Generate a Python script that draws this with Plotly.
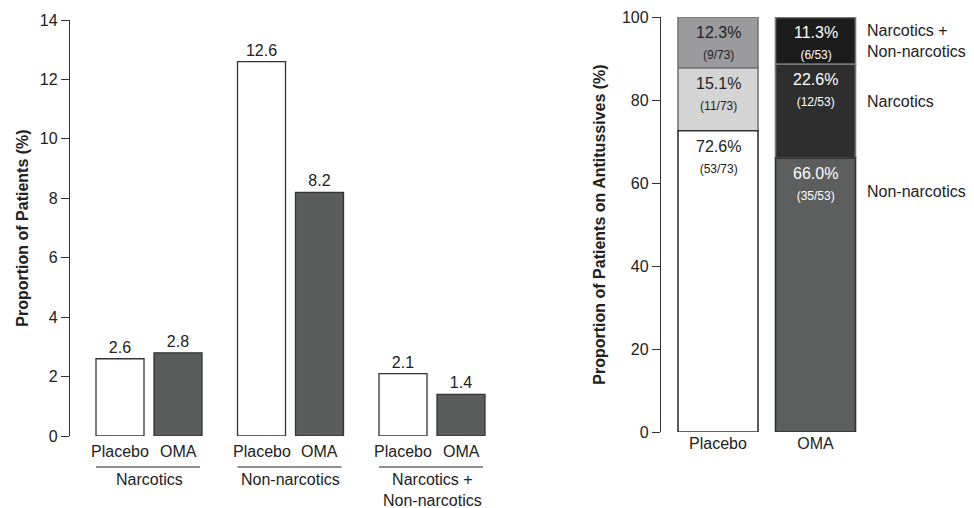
import numpy as np
import plotly.graph_objects as go

# ---------------- data ----------------
categories = ["Narcotics", "Non-narcotics", "Narcotics + Non-narcotics"]
category_labels = ["Narcotics", "Non-narcotics", "Narcotics +<br>Non-narcotics"]
placebo_vals = [2.6, 12.6, 2.1]
oma_vals = [2.8, 8.2, 1.4]

groups = ["Placebo", "OMA"]
nonnarc_pct = [72.6, 66.0]
nonnarc_n = ["53/73", "35/53"]
narc_pct = [15.1, 22.6]
narc_n = ["11/73", "12/53"]
combo_pct = [12.3, 11.3]
combo_n = ["9/73", "6/53"]
seg_names = ["Non-narcotics", "Narcotics", "Narcotics +<br>Non-narcotics"]

# ---------------- layout helpers (pixels) ----------------
W, H = 974, 508
FONT = "Liberation Sans, Arial, Helvetica, sans-serif"
TXT = "#222222"


def px(x):
    return x / W


def py(y):
    return 1 - y / H


# left panel
L_X0, L_X1 = 70, 500
L_CAT = 141.5
L_C0 = 149
L_TOP, L_BOT = 20, 436
bw = 48 / L_CAT
# right panel
R_X0, R_X1 = 661, 900
R_CAT = 97.5
R_C0 = 718
R_TOP, R_BOT = 17, 432
rbw = 80 / R_CAT

fig = go.Figure()

fig.add_trace(go.Bar(
    x=categories, y=placebo_vals, name="Placebo",
    width=bw, offset=-53 / L_CAT,
    marker=dict(color="#ffffff", line=dict(color="#333333", width=1.3)),
    text=[f"{v:.1f}" for v in placebo_vals], textposition="outside",
    textfont=dict(size=16, color=TXT, family=FONT), cliponaxis=False,
    xaxis="x", yaxis="y", showlegend=False,
))
fig.add_trace(go.Bar(
    x=categories, y=oma_vals, name="OMA",
    width=bw, offset=5 / L_CAT,
    marker=dict(color="#5b5d5c", line=dict(color="#333333", width=1.3)),
    text=[f"{v:.1f}" for v in oma_vals], textposition="outside",
    textfont=dict(size=16, color=TXT, family=FONT), cliponaxis=False,
    xaxis="x", yaxis="y", showlegend=False,
))

# right stacked panel (bases from cumulative sums of the data)
pcts = [nonnarc_pct, narc_pct, combo_pct]
ns = [nonnarc_n, narc_n, combo_n]
cols = [["#ffffff", "#5d5f5e"], ["#d4d4d4", "#2e2e2e"], ["#9b9b9d", "#1c1c1c"]]
tcols = [[TXT, "#ffffff"], [TXT, "#ffffff"], [TXT, "#ffffff"]]
lcols = ["#333333", "#777777", "#777777"]
bases = np.vstack([np.zeros(2), np.cumsum(np.array(pcts), axis=0)[:-1]])

annotations = []
for i in [2, 1, 0]:
    fig.add_trace(go.Bar(
        x=groups, y=pcts[i], base=bases[i],
        width=rbw, offset=-rbw / 2,
        marker=dict(color=cols[i], line=dict(color=lcols[i], width=1.6)),
        xaxis="x2", yaxis="y2", showlegend=False, name=seg_names[i],
    ))
    for j, g in enumerate(groups):
        annotations.append(dict(
            x=g, xref="x2", y=bases[i][j] + pcts[i][j], yref="y2",
            yanchor="top", xanchor="center", yshift=-5, showarrow=False,
            text=f"{pcts[i][j]:.1f}%<br><span style='font-size:12px'>({ns[i][j]})</span>",
            font=dict(size=16, color=tcols[i][j], family=FONT), align="center",
        ))

# Placebo / OMA labels under left bars
for c in categories:
    for lab, sh in (("Placebo", -29), ("OMA", 29)):
        annotations.append(dict(
            x=c, xref="x", y=py(451), yref="paper", xshift=sh,
            text=lab, showarrow=False, yanchor="middle", xanchor="center",
            font=dict(size=16, color=TXT, family=FONT),
        ))
# group labels
shapes = []
for i, lab in enumerate(category_labels):
    annotations.append(dict(
        x=categories[i], xref="x", y=py(469), yref="paper",
        text=lab, showarrow=False, yanchor="top", xanchor="center", align="center",
        font=dict(size=16, color=TXT, family=FONT),
    ))
    shapes.append(dict(
        type="line", xref="x", yref="paper",
        x0=i - 53 / L_CAT, x1=i + 51 / L_CAT, y0=py(467), y1=py(467),
        line=dict(color=TXT, width=1.2),
    ))
# right-side segment labels
for lab, yy in (("Narcotics +<br>Non-narcotics", 41), ("Narcotics", 102), ("Non-narcotics", 191)):
    annotations.append(dict(
        x=px(865), xref="paper", y=py(yy), yref="paper",
        text=lab, showarrow=False, xanchor="left", yanchor="middle", align="left",
        font=dict(size=16, color=TXT, family=FONT),
    ))

axis_common = dict(
    showline=True, linecolor="#333333", linewidth=1.3,
    ticks="outside", ticklen=8, tickwidth=1.3, tickcolor="#333333",
    showgrid=False, zeroline=False,
    tickfont=dict(size=16, color=TXT, family=FONT),
)

fig.update_layout(
    width=W, height=H,
    margin=dict(l=0, r=0, t=0, b=0),
    paper_bgcolor="white", plot_bgcolor="white",
    barmode="overlay",
    font=dict(family=FONT, color=TXT),
    xaxis=dict(domain=[px(L_X0), px(L_X1)],
               range=[-(L_C0 - L_X0) / L_CAT, (L_X1 - L_C0) / L_CAT],
               showticklabels=False, ticks="", showline=False, showgrid=False,
               zeroline=False, type="category"),
    yaxis=dict(domain=[py(L_BOT), py(L_TOP)], range=[0, 14], dtick=2,
               title=dict(text="<b>Proportion of Patients (%)</b>", standoff=7,
                          font=dict(size=16, color=TXT, family=FONT)),
               automargin=False, **axis_common),
    xaxis2=dict(domain=[px(R_X0), px(R_X1)],
                range=[-(R_C0 - R_X0) / R_CAT, (R_X1 - R_C0) / R_CAT],
                showline=False, ticks="", showgrid=False, zeroline=False,
                type="category", anchor="y2",
                tickfont=dict(size=16, color=TXT, family=FONT)),
    yaxis2=dict(domain=[py(R_BOT), py(R_TOP)], range=[0, 100], dtick=20,
                anchor="x2",
                title=dict(text="<b>Proportion of Patients on Antitussives (%)</b>", standoff=12,
                           font=dict(size=16, color=TXT, family=FONT)),
                automargin=False, **axis_common),
    annotations=annotations,
    shapes=shapes,
)

fig.write_html("out.html", config={"displayModeBar": False},
               post_script="document.body.style.margin='0px';")
